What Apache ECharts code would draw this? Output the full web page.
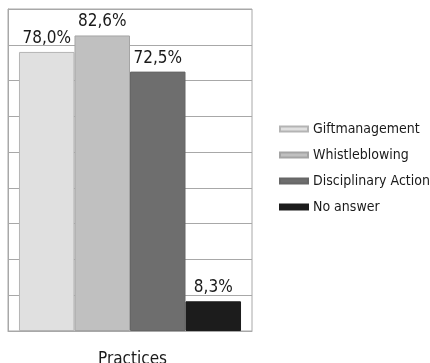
<!DOCTYPE html>
<html>
<head>
<meta charset="utf-8">
<script src="https://cdn.jsdelivr.net/npm/echarts@6/dist/echarts.min.js"></script>
<style>
  html, body { margin: 0; padding: 0; background: #fff; }
  #chart { width: 430px; height: 363px; }
</style>
</head>
<body>
<div id="chart"></div>
<script>
// Share of respondents per practice (percent)
const categories = ['Practices'];
const seriesNames = ['Giftmanagement', 'Whistleblowing', 'Disciplinary Action', 'No answer'];
const seriesValues = [[78.0], [82.6], [72.5], [8.3]];
const fillColors = ['#e0e0e0', '#c0c0c0', '#6e6e6e', '#1c1c1c'];
const edgeColors = ['#b4b4b4', '#a4a4a4', '#666666', '#1c1c1c'];

const FONT = '"Liberation Sans Narrow", "DejaVu Sans Condensed", sans-serif';

const chart = echarts.init(document.getElementById('chart'));

const series = seriesNames.map((name, i) => ({
  name: name,
  type: 'bar',
  data: seriesValues[i],
  barGap: '0%',
  barCategoryGap: '9%',
  itemStyle: { color: fillColors[i], borderColor: edgeColors[i], borderWidth: 1 },
  label: {
    show: true,
    position: 'top',
    distance: 5,
    color: '#1a1a1a',
    fontFamily: FONT,
    fontSize: 17,
    formatter: p => p.value.toFixed(1).replace('.', ',') + '%'
  }
}));

chart.setOption({
  animation: false,
  backgroundColor: '#ffffff',
  grid: {
    left: 8, right: 178, top: 9, bottom: 32,
    outerBoundsMode: 'none',
    containLabel: false,
    show: true, borderColor: '#a8a8a8', borderWidth: 1
  },
  xAxis: {
    type: 'category',
    data: categories,
    name: 'Practices',
    nameLocation: 'middle',
    nameGap: 20,
    nameTextStyle: { fontFamily: FONT, fontSize: 17, color: '#1a1a1a', padding: [0, 0, 0, 5] },
    axisLabel: { show: false },
    axisTick: { show: false },
    axisLine: { lineStyle: { color: '#a8a8a8' } }
  },
  yAxis: {
    type: 'value',
    min: 0,
    max: 90,
    interval: 10,
    axisLabel: { show: false },
    axisTick: { show: false },
    axisLine: { show: true, lineStyle: { color: '#a8a8a8' } },
    splitLine: { lineStyle: { color: '#a8a8a8', width: 1 } }
  },
  legend: {
    orient: 'vertical',
    left: 274,
    top: 117,
    itemWidth: 28,
    itemHeight: 5,
    itemGap: 12,
    icon: 'rect',
    textStyle: { fontFamily: FONT, fontSize: 14, color: '#1a1a1a', padding: [0, 0, 0, 0] },
    data: seriesNames
  },
  series: series
});
</script>
</body>
</html>
